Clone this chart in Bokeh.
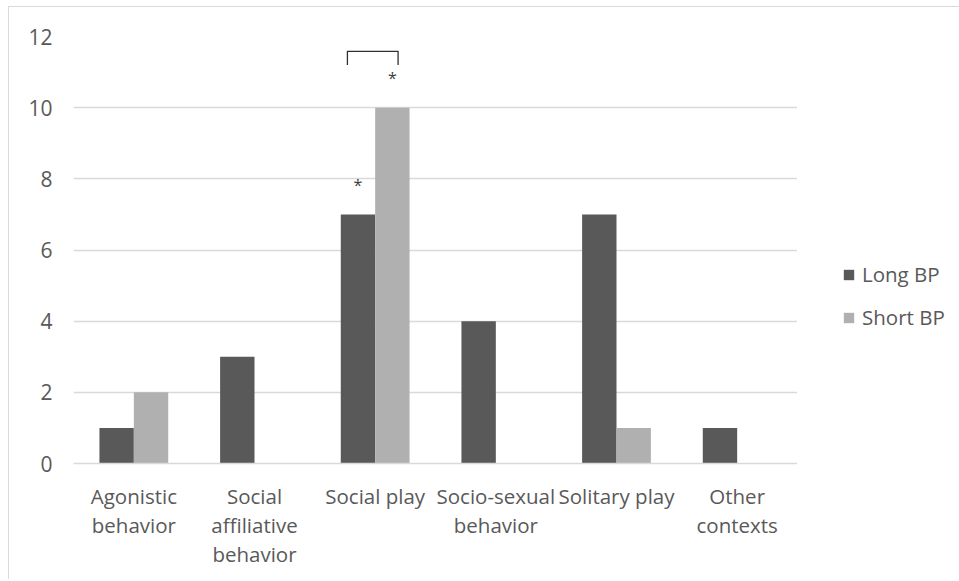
from bokeh.plotting import figure
from bokeh.layouts import row
from bokeh.models import (ColumnDataSource, FactorRange, Range1d, FixedTicker,
                          Legend, LegendItem)
from bokeh.transform import dodge
from bokeh.core.properties import value
from bokeh.embed import file_html
from bokeh.resources import INLINE

# ---- data ----
categories = ["Agonistic\nbehavior", "Social\naffiliative\nbehavior", "Social play",
              "Socio-sexual\nbehavior", "Solitary play", "Other\ncontexts"]
long_bp = [1, 3, 7, 4, 7, 1]
short_bp = [2, 0, 10, 0, 1, 0]
series_names = ["Long BP", "Short BP"]
y_ticks = [0, 2, 4, 6, 8, 10, 12]

# significance marks (category, offset, height)
star_cat = ["Social play", "Social play"]
star_offset = [-0.1425, 0.1425]
star_y = [7.84, 10.82]
bracket_cat = "Social play"
bracket_x = [-0.23, 0.19]
bracket_y = [11.2, 11.58]

LONG_C = "#595959"
SHORT_C = "#b0b0b0"
TEXT_C = "#595959"
GRID_C = "#d9d9d9"
FONT = "Open Sans"
H = 572

src = ColumnDataSource(dict(cat=categories, long=long_bp, short=short_bp))

p = figure(x_range=FactorRange(*categories), y_range=Range1d(0, 12),
           width=788, height=H, output_backend="svg", toolbar_location=None,
           min_border_left=64, min_border_right=0, min_border_top=29,
           min_border_bottom=116)

w = 0.285
r_long = p.vbar(x=dodge("cat", -w / 2, range=p.x_range), top="long", width=w,
                source=src, fill_color=LONG_C, line_color=None)
r_short = p.vbar(x=dodge("cat", w / 2, range=p.x_range), top="short", width=w,
                 source=src, fill_color=SHORT_C, line_color=None)

# asterisks
star_src = ColumnDataSource(dict(x=[(c, o) for c, o in zip(star_cat, star_offset)],
                                 y=star_y, t=["*", "*"]))
p.text(x="x", y="y", text="t", source=star_src, text_align="center",
       text_baseline="middle", text_font=value(FONT), text_font_size="16px",
       text_color="#404040")

# bracket
bx0 = (bracket_cat, bracket_x[0])
bx1 = (bracket_cat, bracket_x[1])
br_src = ColumnDataSource(dict(x=[bx0, bx0, bx1, bx1],
                               y=[bracket_y[0], bracket_y[1], bracket_y[1], bracket_y[0]]))
p.line(x="x", y="y", source=br_src, line_color="#303030", line_width=1.3,
       line_join="round")

# axes / grid
p.xgrid.grid_line_color = None
p.ygrid.grid_line_color = GRID_C
p.ygrid.grid_line_width = 1.5
p.outline_line_color = None

p.yaxis.ticker = FixedTicker(ticks=y_ticks)
p.yaxis.axis_line_color = None
p.yaxis.major_tick_line_color = None
p.yaxis.minor_tick_line_color = None
p.yaxis.major_label_standoff = 15
p.yaxis.major_label_text_font = FONT
p.yaxis.major_label_text_font_size = "21px"
p.yaxis.major_label_text_color = TEXT_C

p.xaxis.axis_line_color = GRID_C
p.xaxis.axis_line_width = 1.5
p.xaxis.major_tick_line_color = None
p.xaxis.minor_tick_line_color = None
p.xaxis.major_label_standoff = 12
p.xaxis.major_label_text_font = FONT
p.xaxis.major_label_text_font_size = "20.5px"
p.xaxis.major_label_text_color = TEXT_C
p.xaxis.major_label_text_line_height = 1.05
p.xaxis.major_label_orientation = "horizontal"

# legend panel (separate blank figure to the right of the chart);
# its bar renderers share the data but are hidden, only their legend swatches show
lg = figure(x_range=FactorRange(*categories), y_range=Range1d(0, 1), width=162,
            height=H, output_backend="svg", toolbar_location=None,
            min_border_left=0, min_border_right=0, min_border_top=0,
            min_border_bottom=0)
lg.axis.visible = False
lg.grid.visible = False
lg.outline_line_color = None
k_long = lg.vbar(x="cat", top="long", width=w, source=src,
                 fill_color=LONG_C, line_color=None, visible=False)
k_short = lg.vbar(x="cat", top="short", width=w, source=src,
                  fill_color=SHORT_C, line_color=None, visible=False)
legend = Legend(items=[LegendItem(label=series_names[0], renderers=[k_long]),
                       LegendItem(label=series_names[1], renderers=[k_short])],
                location=(45, 132), orientation="vertical",
                glyph_width=13, glyph_height=13, label_height=13,
                spacing=15, padding=0, margin=0, label_standoff=7,
                border_line_color=None, background_fill_alpha=0,
                inactive_fill_alpha=0,
                label_text_font=FONT, label_text_font_size="20.5px",
                label_text_color=TEXT_C)
lg.add_layout(legend, "center")

layout = row(p, lg)
layout.styles = {"border-left": "1px solid #d9d9d9", "border-top": "1px solid #d9d9d9",
                 "margin-top": "6px", "margin-left": "8px"}

open("out.html", "w").write(file_html(layout, INLINE))
